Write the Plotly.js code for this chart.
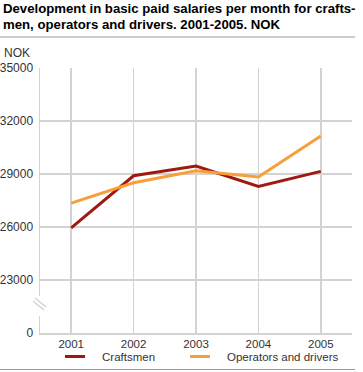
<!DOCTYPE html>
<html>
<head>
<meta charset="utf-8">
<script src="https://cdn.plot.ly/plotly-3.0.1.min.js"></script>
<style>
  html, body { margin: 0; padding: 0; background: #fff; }
  #chart { width: 363px; height: 372px; }
</style>
</head>
<body>
<div id="chart"></div>
<script>
// ---- Data ----
const years = [2001, 2002, 2003, 2004, 2005];
const craftsmen = [25950, 28900, 29450, 28300, 29150];
const operators = [27350, 28500, 29180, 28830, 31150];
const seriesNames = ["Craftsmen", "Operators and drivers"];
// Broken axis: the bottom tick stands for 0
const yTickVals = [20000, 23000, 26000, 29000, 32000, 35000];
const yTickText = ["0", "23000", "26000", "29000", "32000", "35000"];
const titleLines = [
  "Development in basic paid salaries per month for crafts-",
  "men, operators and drivers. 2001-2005. NOK"
];
const unitText = "NOK";

// ---- Style ----
const colors = ["#9e1a10", "#f7a03a"];
const gridColor = "#d3d3d3";
const textColor = "#333333";
const fontFamily = "'Liberation Sans', Arial, sans-serif";

const W = 363, H = 372;
const M = { l: 40, r: 11, t: 68, b: 39 };
const PW = W - M.l - M.r, PH = H - M.t - M.b;
const px2x = p => (p - M.l) / PW;
const py2y = p => (H - M.b - p) / PH;

const traces = [craftsmen, operators].map((vals, i) => ({
  type: "scatter",
  mode: "lines",
  x: years,
  y: vals,
  name: seriesNames[i],
  line: { color: colors[i], width: 3 },
  hoverinfo: "skip",
  showlegend: false
}));

// manual legend
const legendItems = [
  { lineX: 65, textX: 100 },
  { lineX: 190, textX: 225 }
];
const legendY = 357;

const shapes = [
  // top and bottom rules
  { type: "line", xref: "paper", yref: "paper", x0: px2x(0), x1: px2x(355), y0: py2y(37), y1: py2y(37), line: { color: "#9a9a9a", width: 1.2 } },
  { type: "line", xref: "paper", yref: "paper", x0: px2x(0), x1: px2x(355), y0: py2y(369.5), y1: py2y(369.5), line: { color: "#9a9a9a", width: 1.2 } },
  // axis break gap
  { type: "rect", xref: "paper", yref: "paper", x0: px2x(37), x1: px2x(43), y0: py2y(316), y1: py2y(296), fillcolor: "#ffffff", line: { width: 0 }, layer: "above" },
  { type: "line", xref: "paper", yref: "paper", x0: px2x(33), y0: py2y(301), x1: px2x(44), y1: py2y(310), line: { color: gridColor, width: 1.5 }, layer: "above" },
  { type: "line", xref: "paper", yref: "paper", x0: px2x(35), y0: py2y(298), x1: px2x(46), y1: py2y(307), line: { color: gridColor, width: 1.5 }, layer: "above" }
];
legendItems.forEach((it, i) => {
  shapes.push({ type: "line", xref: "paper", yref: "paper", x0: px2x(it.lineX), x1: px2x(it.lineX + 20), y0: py2y(legendY - 0.5), y1: py2y(legendY - 0.5), line: { color: colors[i], width: 3 } });
});

const annotations = [
  { text: unitText, xref: "paper", yref: "paper", x: px2x(2), y: py2y(53), xanchor: "left", yanchor: "middle", showarrow: false, font: { family: fontFamily, size: 12, color: textColor } }
];
titleLines.forEach((t, i) => {
  annotations.push({ text: "<b>" + t + "</b>", xref: "paper", yref: "paper", x: px2x(1), y: py2y(8.5 + i * 15.5), xanchor: "left", yanchor: "middle", showarrow: false, font: { family: fontFamily, size: 13.2, color: "#000000" } });
});
legendItems.forEach((it, i) => {
  annotations.push({ text: seriesNames[i], xref: "paper", yref: "paper", x: px2x(it.textX), y: py2y(legendY), xanchor: "left", yanchor: "middle", showarrow: false, font: { family: fontFamily, size: 11.5, color: textColor } });
});

const layout = {
  width: W, height: H,
  margin: M,
  paper_bgcolor: "#ffffff",
  plot_bgcolor: "#ffffff",
  showlegend: false,
  font: { family: fontFamily, size: 12, color: textColor },
  xaxis: {
    range: [2000.5, 2005.5],
    tickvals: years,
    ticktext: years.map(String),
    showgrid: true, gridcolor: gridColor, gridwidth: 1.5,
    showline: true, linecolor: gridColor, linewidth: 1.5,
    zeroline: false,
    ticks: "",
    tickfont: { family: fontFamily, size: 11.5, color: textColor },
    fixedrange: true
  },
  yaxis: {
    range: [20000, 35000],
    tickvals: yTickVals,
    ticktext: yTickText,
    showgrid: true, gridcolor: gridColor, gridwidth: 1.5,
    showline: true, linecolor: gridColor, linewidth: 1.5,
    zeroline: false,
    ticks: "outside", ticklen: 3, tickcolor: "rgba(0,0,0,0)",
    tickfont: { family: fontFamily, size: 12, color: textColor },
    fixedrange: true
  },
  shapes: shapes,
  annotations: annotations
};

Plotly.newPlot("chart", traces, layout, { displayModeBar: false, staticPlot: true });
</script>
</body>
</html>
